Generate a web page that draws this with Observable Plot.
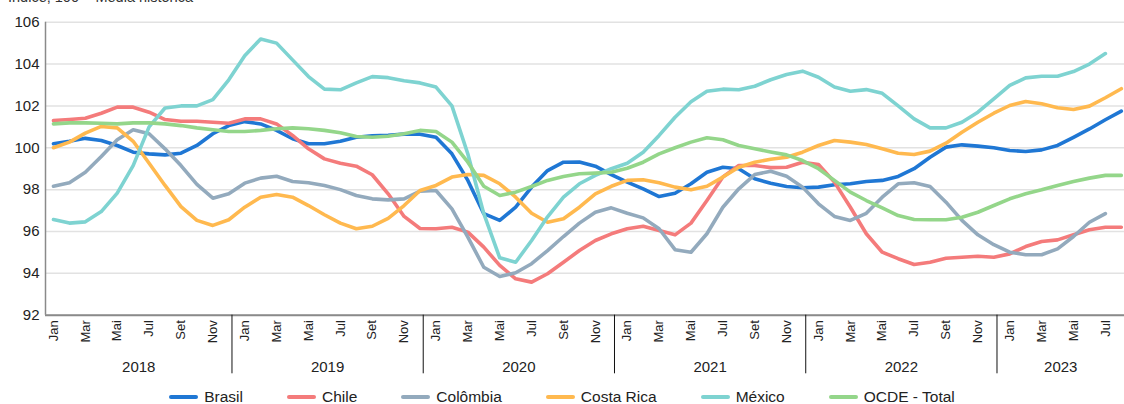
<!DOCTYPE html>
<html>
<head>
<meta charset="utf-8">
<script src="https://cdn.jsdelivr.net/npm/d3@7"></script>
<script src="https://cdn.jsdelivr.net/npm/@observablehq/plot@0.6"></script>
<style>
  body { margin: 0; background: #fff; overflow: hidden; }
  #wrap { position: relative; width: 1124px; height: 404px; font-family: "Liberation Sans", Arial, sans-serif; color: #222; }
  #title { position: absolute; left: 8px; top: -11px; font-size: 14.5px; line-height: 16px; color: #333; white-space: nowrap; }
  #legend { position: absolute; left: 0; top: 388px; width: 1124px; display: flex; justify-content: center; gap: 44px; font-size: 15.5px; line-height: 18px; }
  .item { display: flex; align-items: center; gap: 6px; }
  .sw { width: 29px; height: 4px; border-radius: 2px; }
</style>
</head>
<body>
<div id="wrap">
  <div id="chart"></div>
  <div id="title">Índice, 100 = Média histórica</div>
  <div id="legend"></div>
</div>
<script>
// ---- data ----
const years = [2018, 2019, 2020, 2021, 2022, 2023];
const monthNames = ["Jan","Fev","Mar","Abr","Mai","Jun","Jul","Ago","Set","Out","Nov","Dez"];
const tickMonths = ["Jan","Mar","Mai","Jul","Set","Nov"];
const yTicks = [92, 94, 96, 98, 100, 102, 104, 106];
const seriesNames = ["Brasil", "Chile", "Colômbia", "Costa Rica", "México", "OCDE - Total"];
const seriesColors = ["#1f77d4", "#f47b7b", "#93aabd", "#ffb94f", "#7ed3d1", "#94d68a"];

const brasil = [100.19,100.31,100.45,100.35,100.11,99.79,99.71,99.66,99.74,100.11,100.67,101.06,
  101.25,101.14,100.83,100.43,100.19,100.19,100.31,100.5,100.57,100.6,100.65,100.65,
  100.5,99.71,98.44,96.85,96.53,97.16,98.12,98.91,99.31,99.32,99.12,98.72,
  98.36,98.04,97.67,97.83,98.28,98.83,99.07,99.0,98.52,98.3,98.15,98.09,
  98.12,98.23,98.28,98.39,98.44,98.63,99.0,99.55,100.03,100.14,100.08,100.0,
  99.87,99.82,99.9,100.11,100.5,100.9,101.34,101.75];
const chile = [101.3,101.35,101.41,101.65,101.94,101.94,101.7,101.35,101.27,101.27,101.22,101.17,
  101.38,101.38,101.14,100.59,99.95,99.47,99.26,99.12,98.71,97.8,96.72,96.14,
  96.13,96.2,95.97,95.25,94.38,93.74,93.58,93.98,94.53,95.09,95.57,95.89,
  96.13,96.25,96.05,95.84,96.4,97.48,98.6,99.15,99.15,99.05,99.07,99.31,
  99.2,98.36,97.16,95.89,95.01,94.7,94.42,94.53,94.72,94.77,94.82,94.77,
  94.93,95.28,95.52,95.6,95.84,96.08,96.2,96.2];
const colombia = [98.16,98.33,98.83,99.58,100.38,100.86,100.67,99.95,99.15,98.25,97.59,97.8,
  98.31,98.55,98.64,98.39,98.33,98.2,98.0,97.72,97.56,97.51,97.56,97.93,
  97.96,97.08,95.73,94.29,93.85,94.03,94.46,95.09,95.76,96.4,96.92,97.13,
  96.87,96.65,96.13,95.13,95.01,95.89,97.16,98.04,98.72,98.88,98.64,98.12,
  97.32,96.72,96.53,96.87,97.64,98.28,98.33,98.15,97.4,96.53,95.84,95.37,
  95.01,94.89,94.89,95.17,95.76,96.44,96.85];
const costaRica = [100.0,100.27,100.7,101.02,100.95,100.31,99.26,98.2,97.19,96.53,96.29,96.56,
  97.16,97.64,97.77,97.64,97.24,96.8,96.4,96.13,96.25,96.63,97.24,97.96,
  98.2,98.6,98.72,98.68,98.28,97.64,96.87,96.44,96.61,97.16,97.8,98.16,
  98.44,98.47,98.33,98.12,97.99,98.16,98.6,99.07,99.31,99.45,99.55,99.79,
  100.11,100.35,100.27,100.16,99.95,99.74,99.68,99.84,100.22,100.74,101.22,101.65,
  102.02,102.21,102.1,101.91,101.83,101.99,102.39,102.82];
const mexico = [96.57,96.4,96.46,96.95,97.83,99.15,101.0,101.9,102.0,102.0,102.3,103.25,
  104.4,105.2,105.0,104.2,103.4,102.8,102.77,103.1,103.4,103.35,103.2,103.1,
  102.9,102.0,99.7,96.85,94.74,94.53,95.57,96.7,97.64,98.28,98.68,99.0,
  99.26,99.79,100.59,101.46,102.2,102.7,102.8,102.77,102.94,103.25,103.5,103.66,
  103.37,102.9,102.7,102.78,102.6,102.0,101.38,100.95,100.95,101.22,101.7,102.34,
  102.98,103.34,103.42,103.42,103.64,104.0,104.5];
const ocde = [101.14,101.19,101.19,101.17,101.14,101.19,101.19,101.14,101.06,100.95,100.86,100.78,
  100.78,100.83,100.91,100.95,100.91,100.83,100.72,100.54,100.5,100.55,100.67,100.83,
  100.78,100.27,99.31,98.16,97.72,97.88,98.15,98.44,98.63,98.76,98.79,98.83,
  99.02,99.31,99.71,100.0,100.27,100.48,100.38,100.11,99.95,99.8,99.66,99.39,
  99.0,98.44,97.88,97.48,97.13,96.76,96.57,96.56,96.56,96.68,96.92,97.24,
  97.56,97.8,97.99,98.2,98.39,98.55,98.68,98.68];

// ---- build tables ----
const seriesValues = [brasil, chile, colombia, costaRica, mexico, ocde];
const rows = [];
seriesNames.forEach((name, s) => {
  seriesValues[s].forEach((v, i) => rows.push({series: name, i, v}));
});
const nMonths = d3.max(seriesValues, a => a.length);
const monthTicks = d3.range(nMonths)
  .filter(i => tickMonths.includes(monthNames[i % 12]))
  .map(i => ({i, label: monthNames[i % 12]}));
const sepOffset = -0.8;
const seps = years.slice(1).map((y, k) => (k + 1) * 12 + sepOffset);
const bounds = [-0.5, ...seps, nMonths - 1 + 0.2];
const yearLabels = years.map((y, k) => ({y, x: (bounds[k] + bounds[k + 1]) / 2}));

const yMin = 92, yMax = 106;
const chart = Plot.plot({
  width: 1124,
  height: 380,
  marginTop: 21.7,
  marginBottom: 65.3,
  marginLeft: 45,
  marginRight: 0,
  x: {domain: [-0.5, 67.2], axis: null},
  y: {domain: [yMin, yMax], axis: null},
  color: {domain: seriesNames, range: seriesColors},
  style: {fontFamily: '"Liberation Sans", Arial, sans-serif', color: "#222", background: "transparent", overflow: "visible"},
  marks: [
    Plot.gridY(yTicks, {stroke: "#e2e2e2", strokeOpacity: 1, strokeWidth: 1.5}),
    Plot.ruleX([-0.5], {y1: yMin, y2: yMax, stroke: "#8a8a8a", strokeWidth: 1.5}),
    Plot.ruleY([yMin], {stroke: "#8a8a8a", strokeWidth: 2}),
    Plot.ruleX(seps, {y1: yMin, y2: yMin - 2.8, stroke: "#111", strokeWidth: 1}),
    Plot.text(yTicks, {x: -0.5, y: d => d, text: d => String(d), textAnchor: "end", dx: -6, fontSize: 15, fill: "#222"}),
    Plot.text(monthTicks, {x: "i", y: yMin, text: "label", rotate: -90, textAnchor: "end", dy: 5, fontSize: 13, fill: "#222"}),
    Plot.text(yearLabels, {x: "x", y: yMin, text: d => String(d.y), dy: 52, fontSize: 15, fill: "#222"}),
    Plot.line(rows, {x: "i", y: "v", z: "series", stroke: "series", strokeWidth: 3.6, strokeLinejoin: "round", strokeLinecap: "round"})
  ]
});
document.getElementById("chart").appendChild(chart);

const legend = document.getElementById("legend");
seriesNames.forEach((name, s) => {
  const item = document.createElement("div");
  item.className = "item";
  const sw = document.createElement("span");
  sw.className = "sw";
  sw.style.background = seriesColors[s];
  const t = document.createElement("span");
  t.textContent = name;
  item.appendChild(sw);
  item.appendChild(t);
  legend.appendChild(item);
});
</script>
</body>
</html>
